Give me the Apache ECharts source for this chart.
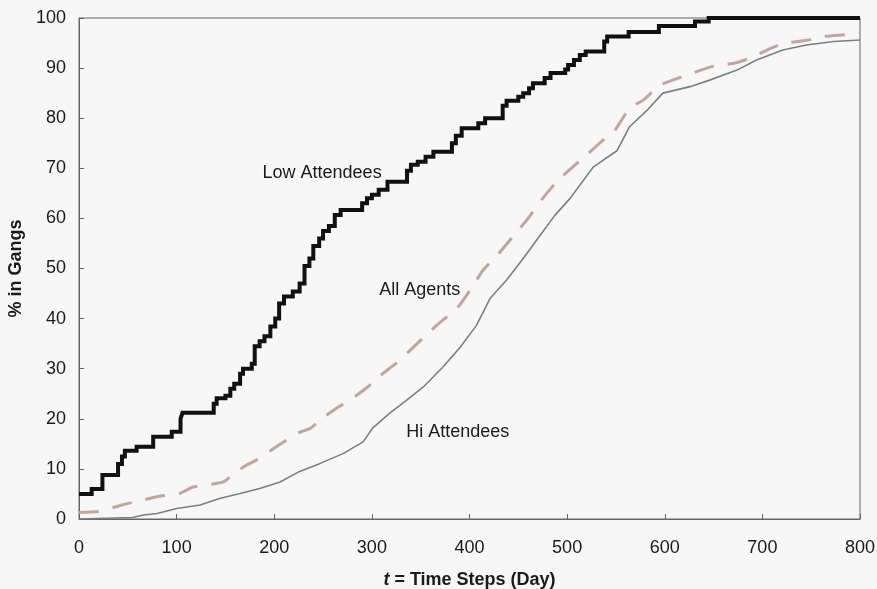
<!DOCTYPE html>
<html>
<head>
<meta charset="utf-8">
<script src="https://cdn.jsdelivr.net/npm/echarts@6/dist/echarts.min.js"></script>
<style>
  html, body { margin: 0; padding: 0; background: #f7f7f7; }
  #chart { width: 877px; height: 589px; }
</style>
</head>
<body>
<div id="chart"></div>
<script>
// day at which each level starts, level (% in gangs)
var lowAttendees = [
  [0, 5], [13, 6], [24, 8.8], [40, 11], [44, 12.5], [47, 13.6], [59, 14.4], [76, 16.4],
  [95, 17.4], [104, 20], [106, 21.2], [138, 23], [141, 24.1], [150, 24.6], [155, 26],
  [159, 27], [165, 29], [168, 30], [177, 31], [180, 34.5], [185, 35.5], [190, 36.5],
  [196, 38.4], [201, 40], [205, 43], [210, 44.4], [219, 45.4], [226, 47], [231, 50.5],
  [236, 52], [240, 54.5], [246, 56], [250, 57.5], [256, 58.5], [262, 60.7], [268, 61.7],
  [290, 63], [295, 64], [300, 64.7], [307, 65.7], [316, 67.3], [336, 69.5], [340, 70.7],
  [347, 71.3], [355, 72.3], [363, 73.3], [382, 75], [386, 76.5], [392, 78], [409, 79],
  [416, 80], [434, 82.5], [438, 83.5], [450, 84.3], [455, 85], [461, 86], [465, 87],
  [477, 88], [483, 89], [498, 89.7], [501, 90.6], [507, 91.6], [513, 92.6], [519, 93.3],
  [538, 95.3], [541, 96.3], [563, 97.2], [594, 98.4], [631, 99.3], [645, 100], [800, 100]
];

var allAgents = [
  [0, 1.3], [20, 1.5], [44, 2.8], [66, 3.8], [81, 4.5], [103, 5.1], [117, 6.4], [148, 7.4],
  [160, 9.3], [172, 10.8], [182, 11.8], [202, 14.4], [214, 15.9], [226, 17.3], [237, 18.1],
  [247, 19.8], [266, 22.4], [278, 23.8], [296, 26.4], [307, 28.4], [325, 31.1], [336, 33.1],
  [354, 36.4], [365, 38.4], [383, 41.4], [390, 42.7], [405, 47], [414, 49.7], [430, 53],
  [445, 56.5], [460, 60], [475, 64], [491, 67.7], [510, 71], [520, 72.7], [539, 76],
  [549, 77.6], [564, 82], [578, 83.6], [595, 86.6], [608, 87.6], [633, 89.3], [648, 90.3],
  [672, 91], [686, 91.9], [708, 93.9], [721, 94.9], [747, 95.6], [762, 96.3], [788, 96.7],
  [800, 97]
];

var hiAttendees = [
  [0, 0], [55, 0.3], [66, 0.8], [80, 1.1], [100, 2.1], [124, 2.8], [144, 4.1], [165, 5.1],
  [185, 6.1], [206, 7.4], [226, 9.5], [247, 11.1], [271, 13.1], [291, 15.4], [301, 18.2],
  [318, 21.1], [336, 23.8], [353, 26.4], [373, 30.4], [390, 34.2], [407, 38.6], [421, 44],
  [438, 47.7], [455, 52], [470, 56], [487, 60.5], [503, 64], [527, 70.3], [551, 73.5],
  [564, 78.3], [582, 81.6], [598, 85], [626, 86.3], [646, 87.6], [674, 89.6], [694, 91.6],
  [721, 93.6], [745, 94.6], [773, 95.3], [800, 95.6]
];

// where the in-plot labels sit, in data coordinates
var seriesLabels = {
  low: { text: 'Low Attendees', at: [249, 69] },
  all: { text: 'All Agents', at: [349, 45.7] },
  hi: { text: 'Hi Attendees', at: [388, 17.4] }
};

var FONT = '"Liberation Sans", Arial, Helvetica, sans-serif';

function labelPoint(lbl) {
  return {
    silent: true,
    symbol: 'circle',
    symbolSize: 0,
    label: {
      show: true,
      position: 'inside',
      formatter: lbl.text,
      color: '#1a1a1a',
      fontFamily: FONT,
      fontSize: 18
    },
    data: [{ coord: lbl.at }]
  };
}

var chart = echarts.init(document.getElementById('chart'));

var option = {
  backgroundColor: '#f7f7f7',
  animation: false,
  grid: {
    left: 79, right: 17, top: 18, bottom: 70,
    outerBoundsMode: 'none',
    show: true,
    borderColor: '#666',
    borderWidth: 1
  },
  xAxis: {
    type: 'value',
    min: 0, max: 800, interval: 100,
    name: '{it|t} = Time Steps (Day)',
    nameLocation: 'middle',
    nameGap: 52,
    nameTextStyle: {
      fontFamily: FONT, fontSize: 18, fontWeight: 'bold', color: '#1a1a1a',
      rich: {
        it: { fontFamily: FONT, fontSize: 18, fontWeight: 'bold', fontStyle: 'italic', color: '#1a1a1a' }
      }
    },
    axisLine: { lineStyle: { color: '#666', width: 1 } },
    axisTick: { inside: true, length: 5, lineStyle: { color: '#666' } },
    axisLabel: { fontFamily: FONT, fontSize: 18, color: '#1a1a1a', margin: 20 },
    splitLine: { show: false }
  },
  yAxis: {
    type: 'value',
    min: 0, max: 100, interval: 10,
    name: '% in Gangs',
    nameLocation: 'middle',
    nameGap: 54,
    nameTextStyle: { fontFamily: FONT, fontSize: 18, fontWeight: 'bold', color: '#1a1a1a' },
    axisLine: { show: true, lineStyle: { color: '#666', width: 1 } },
    axisTick: { show: true, inside: true, length: 5, lineStyle: { color: '#666' } },
    axisLabel: { fontFamily: FONT, fontSize: 18, color: '#1a1a1a', margin: 13 },
    splitLine: { show: false }
  },
  series: [
    {
      name: 'Hi Attendees',
      type: 'line',
      data: hiAttendees,
      showSymbol: false,
      lineStyle: { color: '#758282', width: 1.6 },
      markPoint: labelPoint(seriesLabels.hi)
    },
    {
      name: 'All Agents',
      type: 'line',
      data: allAgents,
      showSymbol: false,
      smooth: 0.2,
      lineStyle: { color: '#c4a59a', width: 3, type: [20, 14] },
      markPoint: labelPoint(seriesLabels.all)
    },
    {
      name: 'Low Attendees',
      type: 'line',
      data: lowAttendees,
      step: 'end',
      showSymbol: false,
      lineStyle: { color: '#111', width: 4, join: 'miter', cap: 'butt' },
      markPoint: labelPoint(seriesLabels.low)
    }
  ]
};

chart.setOption(option);
</script>
</body>
</html>
